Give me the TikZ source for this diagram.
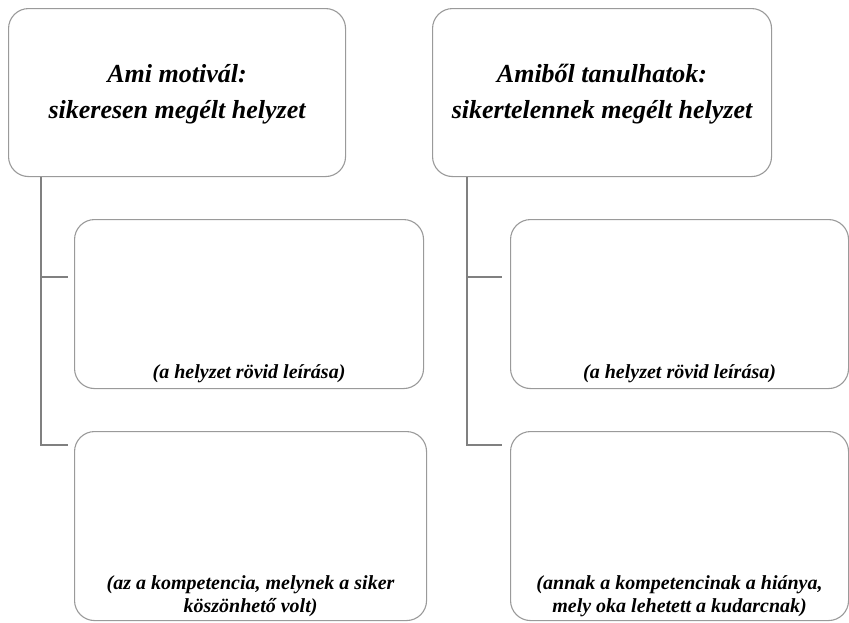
\documentclass[tikz,border=0pt]{standalone}
\usepackage{fontspec}
\setmainfont{Liberation Serif}[
  BoldFont={Liberation Serif Bold},
  ItalicFont={Liberation Serif Italic},
  BoldItalicFont={Liberation Serif Bold Italic}]
\definecolor{boxline}{HTML}{9A9A9A}
\definecolor{treeline}{HTML}{808080}
\tikzset{
  headbox/.style={draw=boxline, line width=1.1pt, rounded corners=20pt, fill=white,
    minimum height=168pt, anchor=north west, inner sep=0pt},
  headtext/.style={anchor=center, align=center, inner sep=0pt,
    font=\fontsize{26}{36}\selectfont\bfseries\itshape},
  itembox/.style={draw=boxline, line width=1.1pt, rounded corners=20pt, fill=white,
    anchor=north west, inner sep=0pt},
  itemtext/.style={align=center, inner sep=0pt,
    font=\fontsize{20}{23}\selectfont\bfseries\itshape},
  branch/.style={draw=treeline, line width=1.1pt}
}
\begin{document}
\begin{tikzpicture}[x=1pt, y=-1pt]
  \useasboundingbox (0,0) rectangle (849,622);

  % left column
  \node[headbox, minimum width=337pt] (ha) at (8,8) {};
  \node[headtext] (hat) at ([yshift=-86pt]ha.north) {Ami motivál:\\sikeresen megélt helyzet};
  \node[itembox, minimum width=349pt, minimum height=169pt] (a1) at (74,219) {};
  \node[itembox, minimum width=352pt, minimum height=189pt] (a2) at (74,431) {};
  \node[itemtext, anchor=base] (a1t) at ([yshift=11pt]a1.south) {(a helyzet rövid leírása)};
  \node[itemtext, anchor=south] (a2t) at ([yshift=4pt]a2.south) {(az a kompetencia, melynek a siker\\köszönhető volt)};
  \coordinate (aspine) at ([xshift=33pt]ha.south west);
  \coordinate (aj1) at ([xshift=-6pt,yshift=-58pt]a1.north west);
  \coordinate (aj2) at ([xshift=-6pt,yshift=-14pt]a2.north west);
  \draw[branch] (aspine) |- (aj2);
  \draw[branch] (aspine |- aj1) -- (aj1);

  % right column
  \node[headbox, minimum width=339pt] (hb) at (432,8) {};
  \node[headtext] (hbt) at ([yshift=-86pt]hb.north) {Amiből tanulhatok:\\sikertelennek megélt helyzet};
  \node[itembox, minimum width=338pt, minimum height=169pt] (b1) at (510,219) {};
  \node[itembox, minimum width=338pt, minimum height=189pt] (b2) at (510,431) {};
  \node[itemtext, anchor=base] (b1t) at ([yshift=11pt]b1.south) {(a helyzet rövid leírása)};
  \node[itemtext, anchor=south] (b2t) at ([yshift=4pt]b2.south) {(annak a kompetencinak a hiánya,\\mely oka lehetett a kudarcnak)};
  \coordinate (bspine) at ([xshift=35pt]hb.south west);
  \coordinate (bj1) at ([xshift=-8pt,yshift=-58pt]b1.north west);
  \coordinate (bj2) at ([xshift=-8pt,yshift=-14pt]b2.north west);
  \draw[branch] (bspine) |- (bj2);
  \draw[branch] (bspine |- bj1) -- (bj1);
\end{tikzpicture}
\end{document}
